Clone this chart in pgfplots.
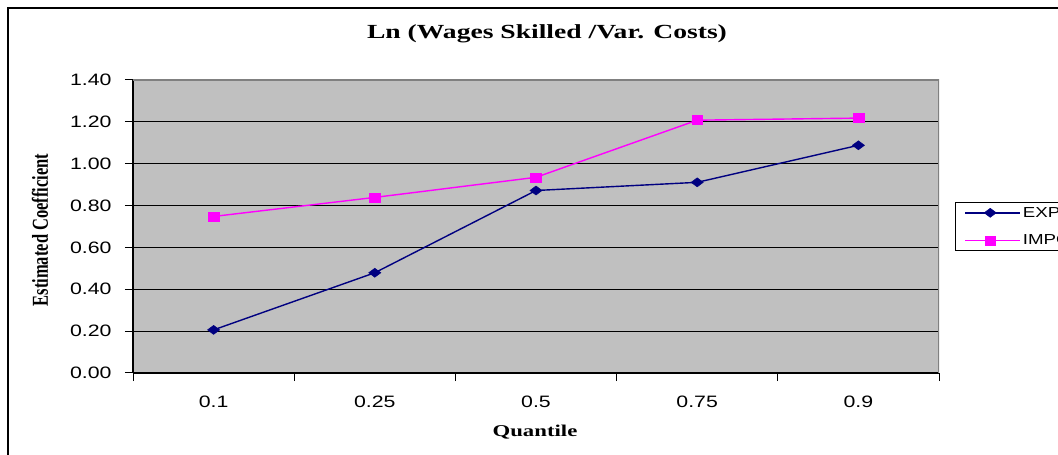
\documentclass[border=0pt]{standalone}
\usepackage{pgfplots}
\pgfplotsset{compat=1.18}
\usepackage{fontspec}
\setmainfont{Liberation Serif}
\newfontfamily\tickfont[FakeStretch=1.29]{Liberation Sans}
\newfontfamily\labfont[FakeStretch=1.38]{Liberation Serif}
\definecolor{plotgray}{HTML}{C0C0C0}
\definecolor{bordergray}{HTML}{808080}
\definecolor{expc}{HTML}{000080}
\definecolor{impc}{HTML}{FF00FF}
\begin{document}
\begin{tikzpicture}[x=1pt,y=1pt]
\path[use as bounding box] (0,0) rectangle (1058,455);
\clip (0,0) rectangle (1058,455);
\draw[line width=2pt] (8,-20) -- (8,447) -- (1080,447);
\node[font=\labfont\bfseries\fontsize{20}{24}\selectfont] at (547,421) {Ln (Wages Skilled /Var. Costs)};
\node[rotate=90] at (40,225) {\scalebox{1}[1.38]{\bfseries\fontsize{16.5}{20}\selectfont Estimated Coefficient}};
\node[font=\labfont\bfseries\fontsize{16.5}{20}\selectfont] at (535,23) {Quantile};
\begin{axis}[at={(133pt,82pt)}, anchor=south west, width=806pt, height=293pt, scale only axis,
  xmin=-0.5, xmax=4.5, ymin=0, ymax=1.4,
  axis x line*=bottom, axis y line*=left,
  axis line style={black, line width=1.2pt, -},
  axis background/.style={fill=plotgray},
  tick align=outside, major tick length=8pt,
  tick style={black, line width=1pt},
  xtick={-0.5,0.5,1.5,2.5,3.5,4.5}, xticklabels={},
  extra x ticks={0,1,2,3,4},
  extra x tick labels={0.1,0.25,0.5,0.75,0.9},
  extra x tick style={major tick length=0pt, xticklabel style={yshift=-19pt}},
  ytick={0,0.2,0.4,0.6,0.8,1.0,1.2,1.4},
  ymajorgrids, grid style={black, line width=1.2pt},
  yticklabel style={/pgf/number format/fixed, /pgf/number format/fixed zerofill, /pgf/number format/precision=2, xshift=-10pt},
  /pgf/number format/assume math mode=true,
  ticklabel style={font=\tickfont\fontsize{16.5}{18}\selectfont},
  legend style={at={(1.0199,0.5836)}, anchor=north west, draw=black, line width=1pt,
    font=\tickfont\fontsize{14.5}{16}\selectfont, row sep=12pt, inner xsep=9pt, inner ysep=2.5pt},
  legend cell align=left,
  legend image code/.code={\draw[mark repeat=2,mark phase=2,#1] plot coordinates {(0pt,0pt) (25pt,0pt) (50pt,0pt)}; \path (0pt,0pt) -- (55pt,0pt);},
]
\addplot[color=expc, line width=1.4pt, mark=diamond*, mark size=4.5pt, mark options={xscale=1.8, line width=0.5pt}]
  coordinates {(0,0.206) (1,0.479) (2,0.872) (3,0.911) (4,1.088)};
\addlegendentry{EXPORTERS}
\addplot[color=impc, line width=1.4pt, mark=square*, mark size=4.5pt, mark options={xscale=1.2, line width=0.5pt}]
  coordinates {(0,0.748) (1,0.839) (2,0.935) (3,1.208) (4,1.218)};
\addlegendentry{IMPORTERS}
\draw[bordergray, line width=2pt] (rel axis cs:0,1) -- (rel axis cs:1,1) -- (rel axis cs:1,0);
\end{axis}
\end{tikzpicture}
\end{document}
